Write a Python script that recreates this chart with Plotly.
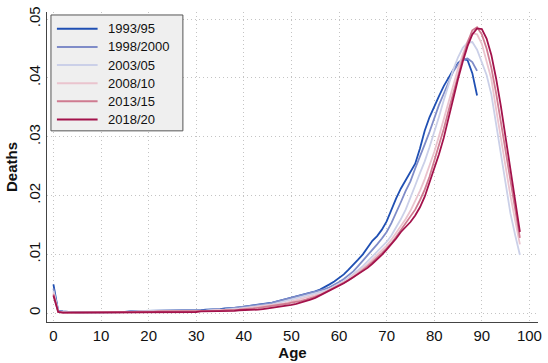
import plotly.graph_objects as go

# Ages covered by each period's life table
ages_to_89 = list(range(90))
ages_to_98 = list(range(99))

periods = ["1993/95", "1998/2000", "2003/05", "2008/10", "2013/15", "2018/20"]
colors = ["#1f4fb3", "#7f8cc8", "#cbd0e8", "#eac4ce", "#cf7b91", "#a3124b"]

# Distribution of deaths by age (share of life-table deaths)
deaths_1993 = [
    .0049, .0004, .0003, .0002, .0002, .0001, .0001, .0001, .0001, .0001,
    .0001, .0001, .0001, .0001, .0002, .0002, .0003, .0004, .0004, .0004,
    .0004, .0004, .0004, .0004, .0004, .0004, .0004, .0004, .0004, .0005,
    .0005, .0005, .0006, .0006, .0007, .0007, .0008, .0008, .0009, .0010,
    .0011, .0012, .0013, .0014, .0015, .0017, .0018, .0020, .0022, .0024,
    .0027, .0029, .0031, .0032, .0034, .0037, .0040, .0044, .0049, .0054,
    .0060, .0066, .0074, .0082, .0091, .0100, .0112, .0123, .0131, .0142,
    .0156, .0176, .0195, .0212, .0226, .0240, .0254, .0280, .0310, .0333,
    .0352, .0369, .0386, .0400, .0414, .0425, .0432, .0430, .0408, .0370,
]
deaths_1998 = [
    .0042, .0003, .0002, .0002, .0001, .0001, .0001, .0001, .0001, .0001,
    .0001, .0001, .0001, .0001, .0001, .0002, .0002, .0003, .0004, .0004,
    .0004, .0004, .0004, .0004, .0004, .0004, .0004, .0004, .0004, .0004,
    .0004, .0005, .0005, .0006, .0006, .0007, .0007, .0008, .0009, .0009,
    .0010, .0011, .0012, .0013, .0015, .0016, .0018, .0020, .0022, .0024,
    .0026, .0028, .0030, .0032, .0034, .0036, .0038, .0041, .0044, .0048,
    .0053, .0058, .0064, .0071, .0080, .0089, .0098, .0108, .0117, .0127,
    .0138, .0153, .0170, .0189, .0208, .0224, .0246, .0268, .0287, .0308,
    .0332, .0354, .0373, .0393, .0411, .0423, .0431, .0433, .0427, .0412,
]
deaths_2003 = [
    .0038, .0003, .0002, .0001, .0001, .0001, .0001, .0001, .0001, .0001,
    .0001, .0001, .0001, .0001, .0001, .0001, .0002, .0003, .0003, .0003,
    .0003, .0003, .0003, .0003, .0003, .0003, .0003, .0003, .0003, .0003,
    .0004, .0004, .0004, .0005, .0005, .0006, .0006, .0007, .0007, .0008,
    .0009, .0010, .0010, .0011, .0012, .0014, .0015, .0017, .0019, .0021,
    .0023, .0025, .0027, .0029, .0031, .0033, .0035, .0038, .0041, .0045,
    .0049, .0054, .0060, .0066, .0073, .0080, .0088, .0096, .0104, .0112,
    .0121, .0132, .0145, .0160, .0176, .0195, .0217, .0238, .0258, .0282,
    .0307, .0334, .0362, .0389, .0414, .0435, .0451, .0460, .0461, .0448,
    .0427, .0405, .0372, .0322, .0270, .0218, .0170, .0133, .0099,
]
deaths_2008 = [
    .0035, .0002, .0001, .0001, .0001, .0001, .0001, .0001, .0001, .0001,
    .0001, .0001, .0001, .0001, .0001, .0001, .0002, .0002, .0003, .0003,
    .0003, .0003, .0003, .0003, .0003, .0003, .0003, .0003, .0003, .0003,
    .0003, .0004, .0004, .0004, .0005, .0005, .0005, .0006, .0006, .0007,
    .0008, .0008, .0009, .0010, .0011, .0012, .0013, .0015, .0016, .0018,
    .0020, .0022, .0024, .0026, .0028, .0030, .0033, .0036, .0040, .0044,
    .0048, .0053, .0058, .0064, .0070, .0076, .0083, .0091, .0099, .0107,
    .0115, .0125, .0136, .0148, .0160, .0174, .0190, .0208, .0228, .0250,
    .0274, .0301, .0330, .0360, .0390, .0416, .0440, .0462, .0476, .0474,
    .0458, .0430, .0398, .0347, .0296, .0245, .0200, .0158, .0117,
]
deaths_2013 = [
    .0032, .0002, .0001, .0001, .0001, .0001, .0001, .0001, .0001, .0001,
    .0001, .0001, .0001, .0001, .0001, .0001, .0002, .0002, .0002, .0002,
    .0002, .0002, .0003, .0003, .0003, .0003, .0003, .0003, .0003, .0003,
    .0003, .0003, .0003, .0004, .0004, .0004, .0005, .0005, .0006, .0006,
    .0007, .0007, .0008, .0009, .0010, .0011, .0012, .0013, .0014, .0016,
    .0018, .0019, .0021, .0023, .0025, .0028, .0031, .0035, .0039, .0043,
    .0047, .0051, .0056, .0061, .0067, .0073, .0080, .0087, .0094, .0102,
    .0110, .0119, .0130, .0141, .0152, .0163, .0176, .0192, .0210, .0232,
    .0258, .0285, .0313, .0344, .0375, .0405, .0433, .0460, .0481, .0486,
    .0474, .0450, .0417, .0374, .0325, .0275, .0223, .0174, .0128,
]
deaths_2018 = [
    .0030, .0002, .0001, .0001, .0001, .0001, .0001, .0001, .0001, .0001,
    .0001, .0001, .0001, .0001, .0001, .0001, .0002, .0002, .0002, .0002,
    .0002, .0002, .0002, .0002, .0002, .0002, .0002, .0002, .0002, .0002,
    .0002, .0003, .0003, .0003, .0003, .0003, .0004, .0004, .0004, .0005,
    .0005, .0005, .0006, .0006, .0007, .0008, .0009, .0010, .0011, .0012,
    .0014, .0016, .0018, .0020, .0023, .0026, .0030, .0035, .0039, .0043,
    .0047, .0051, .0056, .0061, .0066, .0071, .0077, .0084, .0091, .0099,
    .0108, .0117, .0127, .0138, .0147, .0155, .0166, .0180, .0198, .0222,
    .0246, .0270, .0298, .0333, .0367, .0398, .0428, .0454, .0474, .0484,
    .0483, .0467, .0439, .0399, .0352, .0300, .0246, .0192, .0138,
]

x_ticks = list(range(0, 101, 10))
y_ticks = [0, .01, .02, .03, .04, .05]
y_tick_text = ["0", ".01", ".02", ".03", ".04", ".05"]

series = [
    (ages_to_89, deaths_1993),
    (ages_to_89, deaths_1998),
    (ages_to_98, deaths_2003),
    (ages_to_98, deaths_2008),
    (ages_to_98, deaths_2013),
    (ages_to_98, deaths_2018),
]

FONT = "Liberation Sans, Arial, sans-serif"
GRID = dict(showgrid=True, gridcolor="#c4c4c4", griddash="1px,3px", gridwidth=1)

W, H = 548, 363
M_L, M_R, M_T, M_B = 47, 6, 10, 40
PLOT_W = W - M_L - M_R
PLOT_H = H - M_T - M_B


def px_x(px):
    """Page pixel column -> paper x."""
    return (px - M_L) / PLOT_W


def px_y(py):
    """Page pixel row -> paper y."""
    return (H - M_B - py) / PLOT_H


fig = go.Figure()
for name, color, (ages, vals) in zip(periods, colors, series):
    fig.add_trace(go.Scatter(
        x=ages, y=vals, mode="lines", name=name,
        line=dict(color=color, width=1.8),
    ))

# Boxed key in the upper-left corner, with a compact row pitch
shapes = [dict(
    type="rect", xref="paper", yref="paper", layer="above",
    x0=px_x(51), x1=px_x(184), y0=px_y(130), y1=px_y(13),
    fillcolor="#efefef", line=dict(color="#555", width=1),
)]
annotations = []
row_top, row_step = 27, 18.3
for i, (name, color) in enumerate(zip(periods, colors)):
    yc = px_y(row_top + i * row_step)
    shapes.append(dict(
        type="line", xref="paper", yref="paper", layer="above",
        x0=px_x(57), x1=px_x(98), y0=yc, y1=yc,
        line=dict(color=color, width=2),
    ))
    annotations.append(dict(
        xref="paper", yref="paper", x=px_x(106), y=yc,
        xanchor="left", yanchor="middle", showarrow=False,
        text=name, font=dict(family=FONT, size=13, color="#111"),
    ))

fig.update_layout(
    width=W, height=H,
    margin=dict(l=M_L, r=M_R, t=M_T, b=M_B),
    paper_bgcolor="white", plot_bgcolor="white",
    font=dict(family=FONT, color="#111", size=15),
    showlegend=False,
    shapes=shapes,
    annotations=annotations,
)

fig.update_xaxes(
    range=[-1.35, 101.8], tickmode="array", tickvals=x_ticks,
    zeroline=False, showline=True, linecolor="#444", linewidth=1,
    ticks="", tickfont=dict(size=15),
    title=dict(text="<b>Age</b>", font=dict(size=15), standoff=2),
    **GRID,
)
fig.update_yaxes(
    range=[-0.0015, 0.0512], tickmode="array", tickvals=y_ticks, ticktext=y_tick_text,
    tickangle=-90,
    zeroline=False, showline=True, linecolor="#444", linewidth=1,
    ticks="", tickfont=dict(size=15),
    title=dict(text="<b>Deaths</b>", font=dict(size=15), standoff=4),
    **GRID,
)

fig.write_html("out.html")
